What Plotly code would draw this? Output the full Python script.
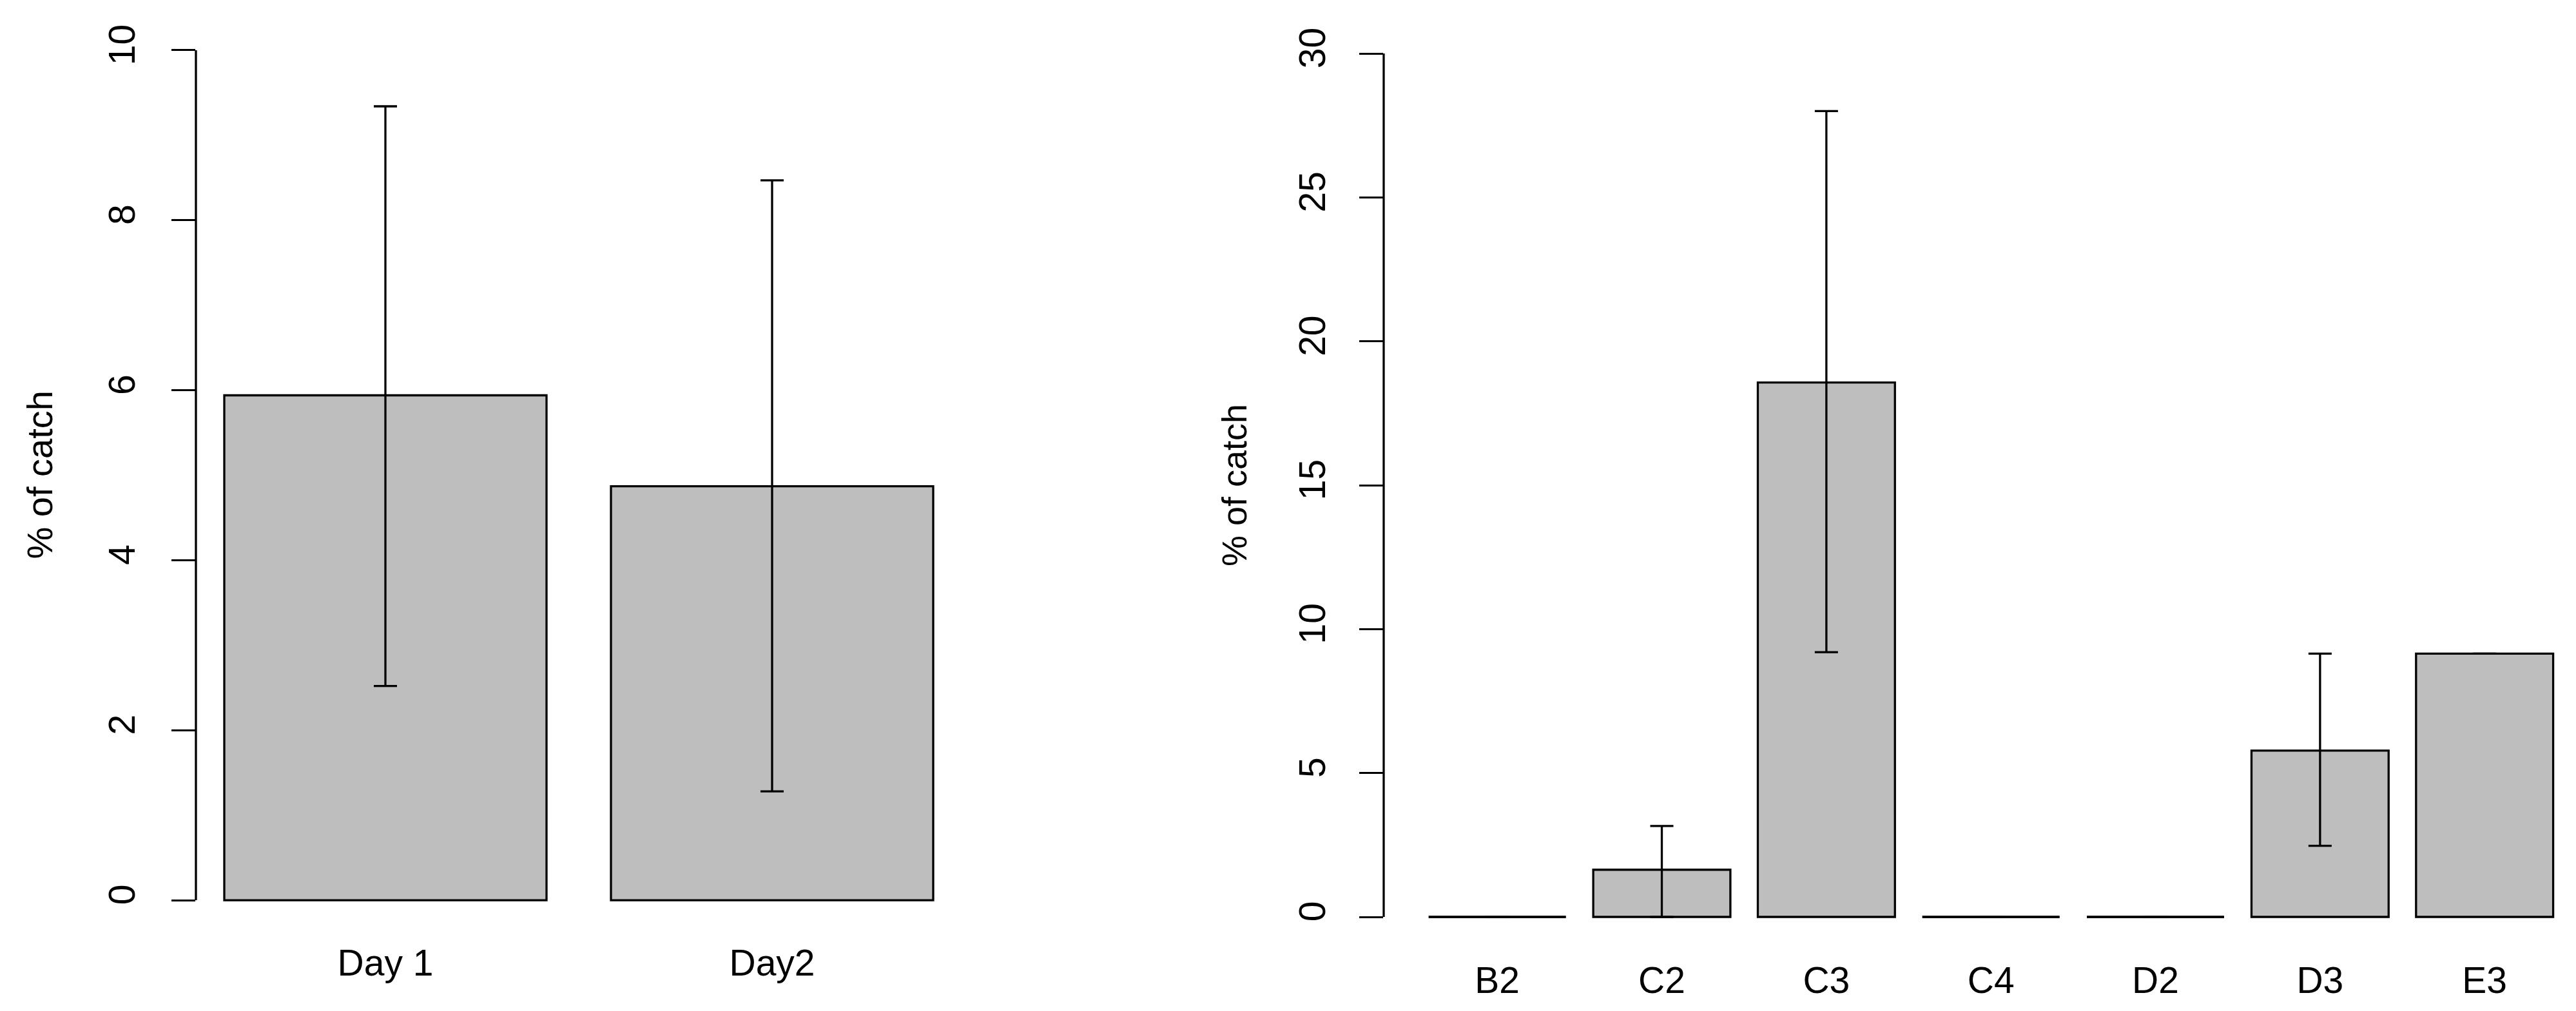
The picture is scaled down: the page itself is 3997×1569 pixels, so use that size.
import plotly.graph_objects as go

# ---- data ----
days = ["Day 1", "Day2"]
day_mean = [5.94, 4.87]
day_upper = [9.34, 8.47]
day_lower = [2.52, 1.28]
day_yticks = [0, 2, 4, 6, 8, 10]

sites = ["B2", "C2", "C3", "C4", "D2", "D3", "E3"]
site_mean = [0.0, 1.64, 18.57, 0.0, 0.0, 5.78, 9.15]
site_upper = [None, 3.16, 28.0, None, None, 9.15, None]
site_lower = [None, 0.0, 9.20, None, None, 2.47, None]
site_yticks = [0, 5, 10, 15, 20, 25, 30]

W, H = 3997, 1569
FONT = "Liberation Sans, Arial, sans-serif"
GREY = "#BEBEBE"
LW = 3.3


def positions(n):
    # R barplot layout: width 1, space 0.2
    return [0.7 + 1.2 * i for i in range(n)]


def err(mean, bound, sign):
    out = []
    for m, b in zip(mean, bound):
        out.append(None if b is None else sign * (b - m))
    return out


def zero_segments(pos, mean):
    xs, ys = [], []
    for p, m in zip(pos, mean):
        if m == 0:
            xs += [p - 0.5, p + 0.5, None]
            ys += [0, 0, None]
    return xs, ys


fig = go.Figure()

pos_d = positions(len(days))
fig.add_trace(go.Bar(
    x=pos_d, y=day_mean, width=1, xaxis="x", yaxis="y",
    marker=dict(color=GREY, line=dict(color="black", width=LW)),
    error_y=dict(type="data", symmetric=False,
                 array=err(day_mean, day_upper, 1),
                 arrayminus=err(day_mean, day_lower, -1),
                 color="black", thickness=LW, width=18),
    showlegend=False, hoverinfo="skip"))

pos_s = positions(len(sites))
fig.add_trace(go.Bar(
    x=pos_s, y=site_mean, width=1, xaxis="x2", yaxis="y2",
    marker=dict(color=GREY, line=dict(color="black", width=LW)),
    error_y=dict(type="data", symmetric=False,
                 array=err(site_mean, site_upper, 1),
                 arrayminus=err(site_mean, site_lower, -1),
                 color="black", thickness=LW, width=18),
    showlegend=False, hoverinfo="skip"))

zx, zy = zero_segments(pos_s, site_mean)
fig.add_trace(go.Scatter(x=zx, y=zy, mode="lines", xaxis="x2", yaxis="y2",
                         line=dict(color="black", width=LW),
                         showlegend=False, hoverinfo="skip"))

tickfont = dict(family=FONT, size=57, color="black")

ld = [296 / W, 1484 / W]
ly = [1 - 1441.8 / H, 1 - 17.2 / H]
rd = [2139 / W, 1.0]
ry = [1 - 1468.6 / H, 1 - 21.4 / H]

xcommon = dict(showgrid=False, zeroline=False, showline=False, ticks="",
               tickfont=tickfont, fixedrange=True, ticklabelstandoff=6)
ycommon = dict(showgrid=False, zeroline=False, showline=False, ticks="outside",
               ticklen=37, tickwidth=LW, tickcolor="black", tickangle=-90,
               tickfont=tickfont, fixedrange=True)

fig.update_layout(
    width=W, height=H,
    margin=dict(l=0, r=0, t=0, b=0),
    paper_bgcolor="white", plot_bgcolor="white",
    font=dict(family=FONT, color="black"),
    xaxis=dict(domain=ld, range=[0.112, 2.488], tickvals=pos_d, ticktext=days,
               anchor="y", **xcommon),
    yaxis=dict(domain=ly, range=[-0.4, 10.4], tickvals=day_yticks,
               anchor="x", ticklabelstandoff=34, **ycommon),
    xaxis2=dict(domain=rd, range=[-0.128, 8.604], tickvals=pos_s, ticktext=sites,
                anchor="y2", **xcommon),
    yaxis2=dict(domain=ry, range=[-1.2, 31.2], tickvals=site_yticks,
                anchor="x2", ticklabelstandoff=30, **ycommon),
    shapes=[
        dict(type="line", xref="x domain", yref="y", x0=0, x1=0,
             y0=day_yticks[0], y1=day_yticks[-1], line=dict(color="black", width=LW)),
        dict(type="line", xref="x2 domain", yref="y2", x0=0, x1=0,
             y0=site_yticks[0], y1=site_yticks[-1], line=dict(color="black", width=LW)),
    ],
    annotations=[
        dict(text="% of catch", x=53 / W, y=(ly[0] + ly[1]) / 2, xref="paper", yref="paper",
             textangle=-90, showarrow=False, xanchor="center", yanchor="middle",
             font=dict(family=FONT, size=56, color="black")),
        dict(text="% of catch", x=1907 / W, y=(ry[0] + ry[1]) / 2, xref="paper", yref="paper",
             textangle=-90, showarrow=False, xanchor="center", yanchor="middle",
             font=dict(family=FONT, size=54, color="black")),
    ],
)

fig.write_html("out.html")
